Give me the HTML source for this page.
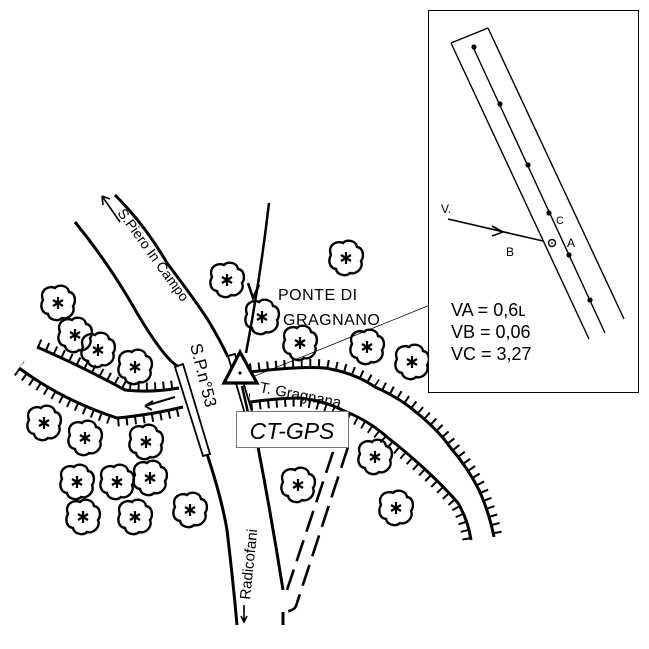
<!DOCTYPE html>
<html><head><style>
html,body{margin:0;padding:0;background:#fff;}
svg{display:block;}
text{font-family:"Liberation Sans",sans-serif;fill:#000;}
</style></head><body>
<svg width="649" height="649" viewBox="0 0 649 649" xmlns="http://www.w3.org/2000/svg">
<defs>
<g id="tree">
<path d="M-15,-3 C-19,-13 -9,-18 -3,-15 C0,-19 10,-18 11,-11 C18,-10 18,0 15,3 C18,10 10,17 4,15 C0,19 -9,17 -10,11 C-17,10 -18,2 -15,-3 Z" fill="none" stroke="#000" stroke-width="2.4"/>
<path d="M0,-6 L0,6 M-5,-3 L5,3 M-5,3 L5,-3" stroke="#000" stroke-width="2.2"/>
</g>
</defs>

<!-- river ticks -->
<g fill="none" stroke="#000" stroke-width="17" stroke-dasharray="2 6.5">
<path d="M37,347 Q83,367 125,390 Q150,393 179,388"/>
<path d="M19,368 Q62,400 117,418 Q150,415 183,407"/>
<path d="M250,372 Q300,366 325,368 Q355,373 375,387 Q400,398 417,413 Q438,430 450,447 Q468,468 479,490 Q489,512 494,537"/>
<path d="M250,402 Q280,398 300,398 Q325,401 342,410 Q368,420 387,437 Q410,455 429,473 Q445,488 458,503 Q468,520 471,540"/>
</g>
<path d="M37,347 Q83,367 125,390 Q150,393 179,388 L183,407 Q150,415 117,418 Q62,400 19,368 Z" fill="#fff"/>
<path d="M250,372 Q300,366 325,368 Q355,373 375,387 Q400,398 417,413 Q438,430 450,447 Q468,468 479,490 Q489,512 494,537 L471,540 Q468,520 458,503 Q445,488 429,473 Q410,455 387,437 Q368,420 342,410 Q325,401 300,398 Q280,398 250,402 Z" fill="#fff"/>
<g fill="none" stroke="#000" stroke-width="3">
<path d="M37,347 Q83,367 125,390 Q150,393 179,388"/>
<path d="M19,368 Q62,400 117,418 Q150,415 183,407"/>
<path d="M250,372 Q300,366 325,368 Q355,373 375,387 Q400,398 417,413 Q438,430 450,447 Q468,468 479,490 Q489,512 494,537"/>
<path d="M250,402 Q280,398 300,398 Q325,401 342,410 Q368,420 387,437 Q410,455 429,473 Q445,488 458,503 Q468,520 471,540"/>
</g>
<path d="M175,397 L145,406 M145,406 L153,401 M145,406 L152,410" stroke="#000" stroke-width="2" fill="none"/>

<!-- roads -->
<g fill="none" stroke="#000" stroke-width="3">
<path d="M75,222 Q110,265 137,313 Q165,360 179,367"/>
<path d="M179,367 Q198,420 208,457 Q222,500 227,530 Q233,580 237,625"/>
<path d="M115,195 Q145,225 167,263 Q195,300 208,320 Q220,340 228,357"/>
<path d="M258,447 Q272,520 283,590"/>
<path d="M283,612 L283,625"/>
</g>
<g fill="none" stroke="#000" stroke-width="2.6" stroke-dasharray="22 9">
<path d="M333,452 L287,590"/>
<path d="M348,447 L296,606 Q294,611 284,612"/>
</g>
<path d="M175,367 L183,364 L210,454 L203,456 Z" fill="#fff" stroke="#000" stroke-width="1.8"/>
<path d="M228,356 L235,354 L252,412 L245,414 Z" fill="#fff" stroke="#000" stroke-width="1.8"/>
<path d="M242,386 L256,448" stroke="#000" stroke-width="2.5"/>

<path d="M269,203 Q260,280 246,353" fill="none" stroke="#000" stroke-width="2.5"/>
<path d="M248,283 L253,298 L259,285" fill="none" stroke="#000" stroke-width="2.5"/>
<path d="M102,196 L120,222 M102,196 L103,205 M102,196 L110,199" stroke="#000" stroke-width="1.6" fill="none"/>

<g>
<use href="#tree" x="227" y="280"/><use href="#tree" x="346" y="258"/><use href="#tree" x="262" y="317"/>
<use href="#tree" x="300" y="343"/><use href="#tree" x="367" y="347"/><use href="#tree" x="412" y="362"/>
<use href="#tree" x="58" y="303"/><use href="#tree" x="75" y="335"/><use href="#tree" x="98" y="350"/>
<use href="#tree" x="135" y="367"/><use href="#tree" x="44" y="423"/><use href="#tree" x="85" y="438"/>
<use href="#tree" x="146" y="442"/><use href="#tree" x="375" y="457"/><use href="#tree" x="298" y="485"/>
<use href="#tree" x="396" y="508"/><use href="#tree" x="77" y="482"/><use href="#tree" x="117" y="482"/>
<use href="#tree" x="150" y="478"/><use href="#tree" x="83" y="517"/><use href="#tree" x="135" y="517"/>
<use href="#tree" x="190" y="510"/>
</g>

<text transform="translate(117,213) rotate(54)" font-size="14">S.Piero In Campo</text>
<text transform="translate(190,345) rotate(76)" font-size="17">S.P.n°53</text>
<text x="278" y="300" font-size="16" letter-spacing="0.5">PONTE DI</text>
<text x="283" y="325" font-size="16" letter-spacing="0.5">GRAGNANO</text>
<text transform="translate(259,392) rotate(11)" font-size="15">T. Gragnana</text>
<text transform="translate(250,600) rotate(-84)" font-size="15">Radicofani</text>
<path d="M244,605 L244,622 M241,616 L244,622 L247,616" stroke="#000" stroke-width="1.6" fill="none"/>

<line x1="250" y1="378" x2="430" y2="305" stroke="#000" stroke-width="0.8"/>

<path d="M240,352 L224,383 L257,383 Z" fill="#fff" stroke="#000" stroke-width="3.2"/>
<circle cx="240" cy="373" r="1.6" fill="#000"/>

<rect x="236.5" y="411.5" width="112" height="36" fill="#fff" stroke="#777" stroke-width="1"/>
<text x="292" y="439" font-size="23" font-style="italic" text-anchor="middle" fill="#222">CT-GPS</text>

<rect x="428.5" y="10.5" width="210" height="382" fill="#fff" stroke="#000" stroke-width="1"/>
<g stroke="#000" stroke-width="1.4" fill="none">
<path d="M451,43 L488,28"/>
<path d="M451,43 L589,339"/>
<path d="M488,28 L624,319"/>
<path d="M473,47 L605,333"/>
</g>
<g fill="#000">
<circle cx="474" cy="47" r="2.6"/><circle cx="500" cy="104" r="2.6"/><circle cx="528" cy="165" r="2.6"/>
<circle cx="549" cy="213" r="2.6"/><circle cx="569" cy="255" r="2.6"/><circle cx="590" cy="300" r="2.6"/>
</g>
<path d="M448,219 L543,241" stroke="#000" stroke-width="1.6"/>
<path d="M492,226 L503,232 L492,236" stroke="#000" stroke-width="1.6" fill="none"/>
<circle cx="552" cy="243" r="3.5" fill="#fff" stroke="#000" stroke-width="1.4"/>
<circle cx="552" cy="243" r="0.9" fill="#000"/>
<text x="441" y="213" font-size="12">V.</text>
<text x="506" y="256" font-size="12">B</text>
<text x="556" y="224" font-size="11">C</text>
<text x="567" y="247" font-size="12">A</text>
<text x="451" y="316" font-size="18">VA = 0,6ʟ</text>
<text x="451" y="338" font-size="18">VB = 0,06</text>
<text x="451" y="360" font-size="18">VC = 3,27</text>
</svg>
</body></html>
